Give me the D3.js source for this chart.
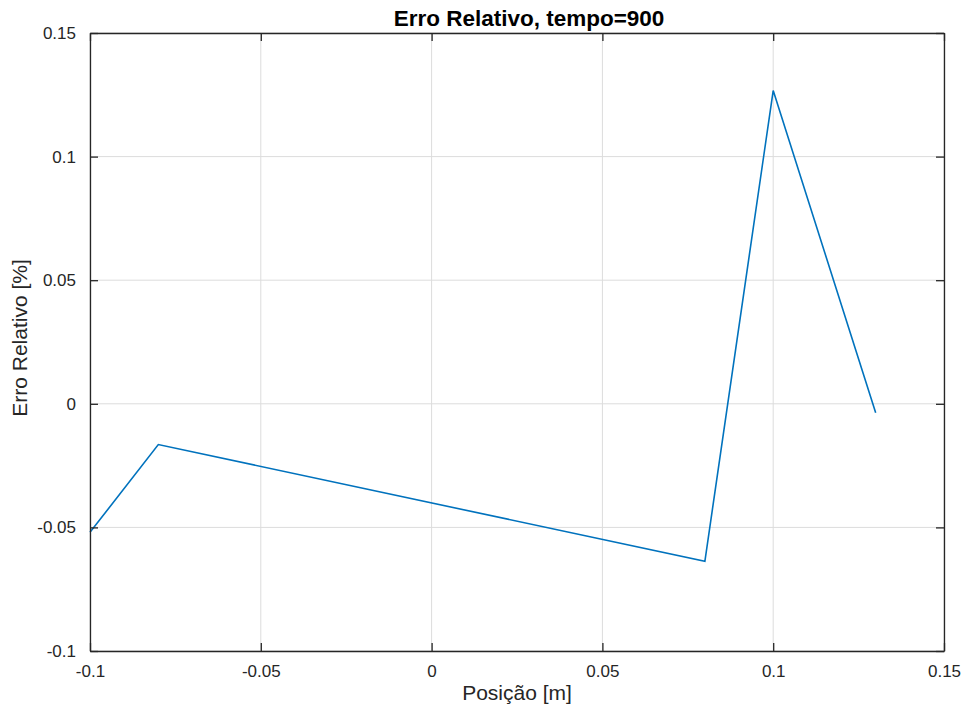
<!DOCTYPE html>
<html><head><meta charset="utf-8">
<script src="https://cdn.jsdelivr.net/npm/d3@7"></script>
<style>body{margin:0;background:#fff}svg text{font-family:"Liberation Sans",Arial,sans-serif}</style>
</head><body><svg id="c" width="966" height="709"></svg>
<script>
const xValues = [-0.1, -0.08, 0.08, 0.1, 0.13];
const yValues = [-0.052, -0.0165, -0.0637, 0.1267, -0.0036];
const xTicks = [-0.1, -0.05, 0, 0.05, 0.1, 0.15];
const yTicks = [-0.1, -0.05, 0, 0.05, 0.1, 0.15];
const xTickLabels = ["-0.1", "-0.05", "0", "0.05", "0.1", "0.15"];
const yTickLabels = ["-0.1", "-0.05", "0", "0.05", "0.1", "0.15"];

const svg = d3.select("#c");
const L = 90, R = 944, T = 33, B = 651;
const x = d3.scaleLinear().domain([-0.1, 0.15]).range([L, R]);
const y = d3.scaleLinear().domain([-0.1, 0.15]).range([B, T]);

// grid
const g = svg.append("g");
g.selectAll(".gx").data(xTicks).enter().append("line")
  .attr("x1", d => x(d)).attr("x2", d => x(d)).attr("y1", T).attr("y2", B)
  .attr("stroke", "#dcdcdc").attr("stroke-width", 1);
g.selectAll(".gy").data(yTicks).enter().append("line")
  .attr("y1", d => y(d)).attr("y2", d => y(d)).attr("x1", L).attr("x2", R)
  .attr("stroke", "#dcdcdc").attr("stroke-width", 1);

// line
svg.append("path").datum(xValues.map((v, i) => [v, yValues[i]]))
  .attr("d", d3.line().x(d => x(d[0])).y(d => y(d[1])))
  .attr("fill", "none").attr("stroke", "#0072BD").attr("stroke-width", 1.6);

// axes
const fmtX = d => xTickLabels[xTicks.indexOf(d)];
const fmtY = d => yTickLabels[yTicks.indexOf(d)];
function style(a){
  a.selectAll("path").attr("stroke", "#262626").attr("stroke-width", 1.3);
  a.selectAll("line").attr("stroke", "#262626").attr("stroke-width", 1.3);
  a.selectAll("text").attr("fill", "#262626").style("font-size", "17px");
}
const ax = svg.append("g").attr("transform", `translate(0,${B})`)
  .call(d3.axisBottom(x).tickValues(xTicks).tickFormat(fmtX).tickSizeInner(-8).tickSizeOuter(0).tickPadding(14));
style(ax);
const axT = svg.append("g").attr("transform", `translate(0,${T})`)
  .call(d3.axisTop(x).tickValues(xTicks).tickFormat("").tickSizeInner(-8).tickSizeOuter(0));
style(axT);
const ay = svg.append("g").attr("transform", `translate(${L},0)`)
  .call(d3.axisLeft(y).tickValues(yTicks).tickFormat(fmtY).tickSizeInner(-8).tickSizeOuter(0).tickPadding(14));
style(ay);
const ayR = svg.append("g").attr("transform", `translate(${R},0)`)
  .call(d3.axisRight(y).tickValues(yTicks).tickFormat("").tickSizeInner(-8).tickSizeOuter(0));
style(ayR);

// labels
svg.append("text").attr("x", (L + R) / 2 + 12).attr("y", 26).attr("text-anchor", "middle")
  .style("font-size", "22.5px").style("font-weight", "bold").attr("fill", "#000")
  .text("Erro Relativo, tempo=900");
svg.append("text").attr("x", (L + R) / 2).attr("y", 700).attr("text-anchor", "middle")
  .style("font-size", "21px").attr("fill", "#262626").text("Posição [m]");
svg.append("text").attr("transform", `translate(27,${(T + B) / 2 - 4}) rotate(-90)`)
  .attr("text-anchor", "middle").style("font-size", "21px").attr("fill", "#262626")
  .text("Erro Relativo [%]");
</script></body></html>
